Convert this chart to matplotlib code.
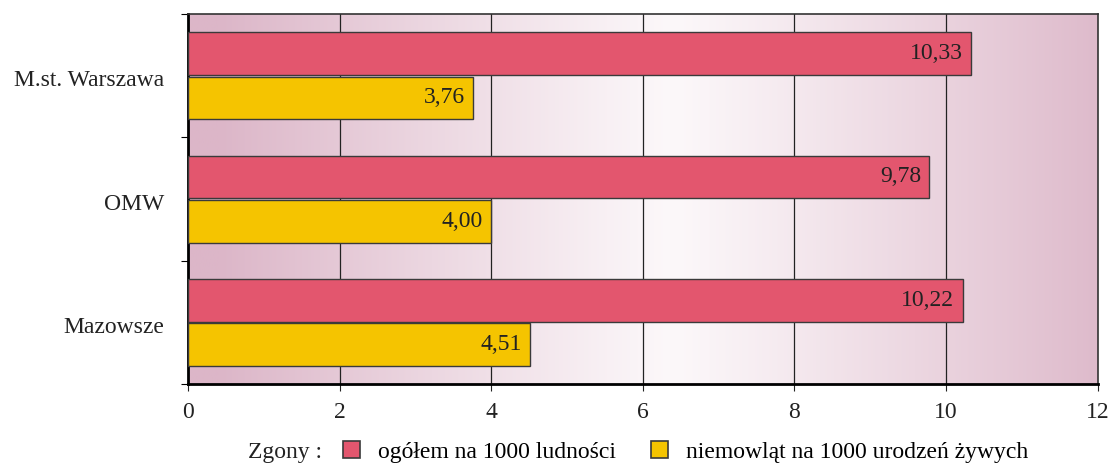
import numpy as np
import matplotlib.pyplot as plt
from matplotlib.patches import Patch

plt.rcParams['font.family'] = ['Liberation Serif', 'DejaVu Serif']

categories = ['M.st. Warszawa', 'OMW', 'Mazowsze']
ogolem = [10.33, 9.78, 10.22]
niemowlat = [3.76, 4.00, 4.51]
value_labels_ogolem = ['10,33', '9,78', '10,22']
value_labels_niem = ['3,76', '4,00', '4,51']
series_names = ['ogółem na 1000 ludności', 'niemowląt na 1000 urodzeń żywych']
legend_title = 'Zgony :'

red = '#E3566E'
yellow = '#F5C400'
edge = '#3a3a3a'
fs = 17

fig = plt.figure(figsize=(11.2, 4.69), dpi=100)
ax = fig.add_axes([0.168, 0.181, 0.812, 0.789])

# gradient background: pink at edges, almost white near the middle
xs = np.linspace(0, 12, 400)
t = np.clip(np.abs(xs - 6.4) / 6.0, 0, 1) ** 1.1
pink = np.array([0xDC, 0xB6, 0xC8]) / 255
white = np.array([0xFC, 0xF8, 0xFA]) / 255
grad = white[None, :] * (1 - t[:, None]) + pink[None, :] * t[:, None]
ax.imshow(grad[None, :, :], extent=[0, 12, 2.5, -0.5], aspect='auto', zorder=0)

y = np.arange(len(categories))
h = 0.345
off = 0.18
ax.barh(y - off, ogolem, height=h, color=red, edgecolor=edge, linewidth=1, zorder=3)
ax.barh(y + off, niemowlat, height=h, color=yellow, edgecolor=edge, linewidth=1, zorder=3)

for yi, v, s in zip(y, ogolem, value_labels_ogolem):
    ax.annotate(s, (v, yi - off), xytext=(-6, 0), textcoords='offset points',
                ha='right', va='center', fontsize=fs, color='#222222', zorder=4)
for yi, v, s in zip(y, niemowlat, value_labels_niem):
    ax.annotate(s, (v, yi + off), xytext=(-6, 0), textcoords='offset points',
                ha='right', va='center', fontsize=fs, color='#222222', zorder=4)

ax.set_xlim(0, 12)
ax.set_ylim(2.5, -0.5)
ax.set_xticks(range(0, 13, 2))
ax.tick_params(axis='x', labelsize=fs, length=5, direction='out', pad=8, colors='#222222')
for gx in range(2, 12, 2):
    ax.axvline(gx, color='#222222', linewidth=0.9, zorder=1)

ax.set_yticks([-0.5, 0.5, 1.5, 2.5])
ax.set_yticklabels([])
ax.set_yticks(y + 0.02, minor=True)
ax.set_yticklabels(categories, minor=True, fontsize=fs, color='#222222')
ax.tick_params(axis='y', which='major', length=5, direction='out')
ax.tick_params(axis='y', which='minor', length=0, pad=17)

for side in ['left', 'bottom']:
    ax.spines[side].set_linewidth(2)
for side in ['top', 'right']:
    ax.spines[side].set_linewidth(1.2)
    ax.spines[side].set_color('#333333')

fig.text(0.221, 0.036, legend_title, fontsize=fs, va='center', ha='left', color='#222222')
handles = [Patch(facecolor=red, edgecolor=edge, linewidth=1.2),
           Patch(facecolor=yellow, edgecolor=edge, linewidth=1.2)]
fig.legend(handles, series_names, loc='center left', bbox_to_anchor=(0.2875, 0.036),
           ncol=2, frameon=False, fontsize=fs, handlelength=0.72, handleheight=0.72,
           handletextpad=0.75, columnspacing=1.5)

fig.savefig('out.png', dpi=100)
